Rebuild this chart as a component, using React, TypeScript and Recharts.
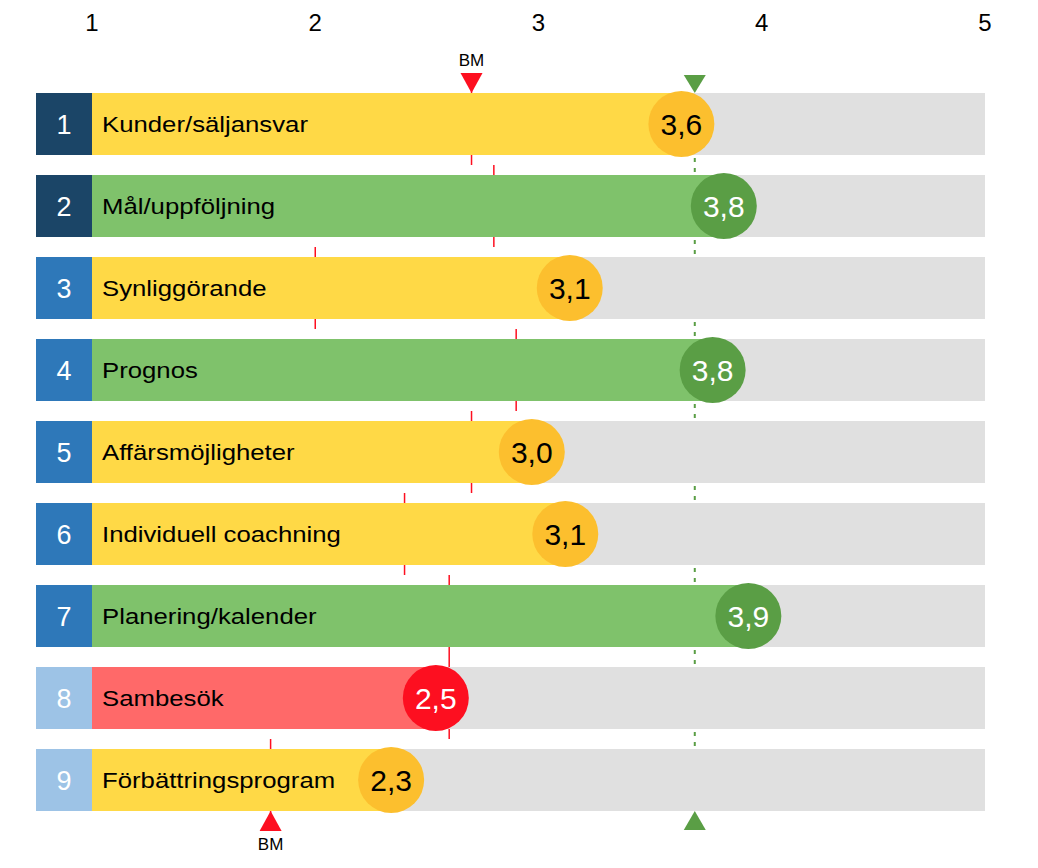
import { Bar, BarChart, XAxis, YAxis } from "recharts";

// Ratings per area, scale 1-5
const CATEGORIES = [
  "Kunder/säljansvar",
  "Mål/uppföljning",
  "Synliggörande",
  "Prognos",
  "Affärsmöjligheter",
  "Individuell coachning",
  "Planering/kalender",
  "Sambesök",
  "Förbättringsprogram",
];
const SCORES = [3.64, 3.83, 3.14, 3.78, 2.97, 3.12, 3.94, 2.54, 2.34];
const BENCHMARKS = [2.7, 2.8, 2.0, 2.9, 2.7, 2.4, 2.6, 2.6, 1.8];
const TARGET = 3.7;
const SCALE_TICKS = [1, 2, 3, 4, 5];
// 0 = dark, 1 = mid, 2 = light number box
const GROUPS = [0, 0, 1, 1, 1, 1, 1, 2, 2];

const FONT = "'Liberation Sans', Arial, Helvetica, sans-serif";
const BAR = 62;
const GROUP_COLORS = ["#1b4567", "#2e78b9", "#9dc3e6"];
const GREEN = "#5a9e45";
const RED = "#fd0f20";

const STATUS: Record<string, { bar: string; dot: string; text: string }> = {
  good: { bar: "#7fc26b", dot: GREEN, text: "#fff" },
  ok: { bar: "#ffd946", dot: "#fcbf2e", text: "#000" },
  bad: { bar: "#ff6969", dot: RED, text: "#fff" },
};

const data = CATEGORIES.map((name, i) => ({
  rank: String(i + 1),
  name,
  score: SCORES[i],
  bm: BENCHMARKS[i],
  target: TARGET,
  max: SCALE_TICKS[SCALE_TICKS.length - 1],
  group: GROUPS[i],
  status:
    SCORES[i] >= TARGET ? "good" : SCORES[i] < BENCHMARKS[i] ? "bad" : "ok",
}));

const last = data.length - 1;

function TopTick(props: any) {
  const { x, y, payload } = props;
  return (
    <text x={x} y={y - 52} textAnchor="middle" fontSize={24} fontFamily={FONT} fill="#000">
      {payload.value}
    </text>
  );
}

function RankTick(props: any) {
  const { x, y, payload, index } = props;
  return (
    <g>
      <rect x={x - 56} y={y - BAR / 2} width={56} height={BAR} fill={GROUP_COLORS[GROUPS[index]]} />
      <text x={x - 28} y={y + 9.7} textAnchor="middle" fontSize={27} fontFamily={FONT} fill="#fff">
        {payload.value}
      </text>
    </g>
  );
}

function ScoreShape(props: any) {
  const { x, y, width, height, payload } = props;
  const st = STATUS[payload.status];
  const cy = y + height / 2;
  const cx = x + width;
  return (
    <g>
      <rect x={x} y={y} width={width} height={height} fill={st.bar} />
      <text
        transform={`translate(${x + 10},${cy + 8}) scale(1.17,1)`}
        fontSize={22}
        fontFamily={FONT}
        fill="#000"
      >
        {payload.name}
      </text>
      <circle cx={cx} cy={cy} r={33} fill={st.dot} />
      <text x={cx} y={cy + 10.7} textAnchor="middle" fontSize={30} fontFamily={FONT} fill={st.text}>
        {payload.score.toFixed(1).replace(".", ",")}
      </text>
    </g>
  );
}

function TargetShape(props: any) {
  const { x, y, width, height, index } = props;
  const cx = x + width;
  const bottom = y + height;
  return (
    <g>
      {index < last && (
        <line
          x1={cx}
          x2={cx}
          y1={bottom}
          y2={bottom + 20}
          stroke={GREEN}
          strokeWidth={2}
          strokeDasharray="4 6"
          strokeDashoffset={7}
        />
      )}
      {index === 0 && (
        <polygon points={`${cx - 11},${y - 18} ${cx + 11},${y - 18} ${cx},${y}`} fill={GREEN} />
      )}
      {index === last && (
        <polygon points={`${cx - 11},${bottom + 19} ${cx + 11},${bottom + 19} ${cx},${bottom}`} fill={GREEN} />
      )}
    </g>
  );
}

function BenchmarkShape(props: any) {
  const { x, y, width, height, index } = props;
  const cx = x + width;
  const bottom = y + height;
  return (
    <g>
      <line x1={cx} x2={cx} y1={y - 10} y2={y} stroke={RED} strokeWidth={1.5} />
      <line x1={cx} x2={cx} y1={bottom} y2={bottom + 10} stroke={RED} strokeWidth={1.5} />
      {index === 0 && (
        <g>
          <polygon points={`${cx - 11},${y - 20} ${cx + 11},${y - 20} ${cx},${y}`} fill={RED} />
          <text x={cx} y={y - 27} textAnchor="middle" fontSize={17} fontFamily={FONT} fill="#000">
            BM
          </text>
        </g>
      )}
      {index === last && (
        <g>
          <polygon points={`${cx - 11},${bottom + 20} ${cx + 11},${bottom + 20} ${cx},${bottom}`} fill={RED} />
          <text x={cx} y={bottom + 39} textAnchor="middle" fontSize={17} fontFamily={FONT} fill="#000">
            BM
          </text>
        </g>
      )}
    </g>
  );
}

export default function App() {
  return (
    <BarChart
      width={1022}
      height={850}
      data={data}
      layout="vertical"
      barGap={-BAR}
      margin={{ top: 0, right: 45, bottom: 37, left: 0 }}
    >
      <XAxis
        type="number"
        orientation="top"
        domain={[1, 5]}
        ticks={SCALE_TICKS}
        height={75}
        tickSize={0}
        tickMargin={0}
        axisLine={false}
        tickLine={false}
        tick={<TopTick />}
      />
      <YAxis
        type="category"
        dataKey="rank"
        width={84}
        tickSize={0}
        tickMargin={0}
        axisLine={false}
        tickLine={false}
        interval={0}
        tick={<RankTick />}
      />
      <Bar dataKey="max" barSize={BAR} fill="#e0e0e0" isAnimationActive={false} />
      <Bar dataKey="score" barSize={BAR} shape={<ScoreShape />} isAnimationActive={false} />
      <Bar dataKey="target" barSize={BAR} shape={<TargetShape />} isAnimationActive={false} />
      <Bar dataKey="bm" barSize={BAR} shape={<BenchmarkShape />} isAnimationActive={false} />
    </BarChart>
  );
}
